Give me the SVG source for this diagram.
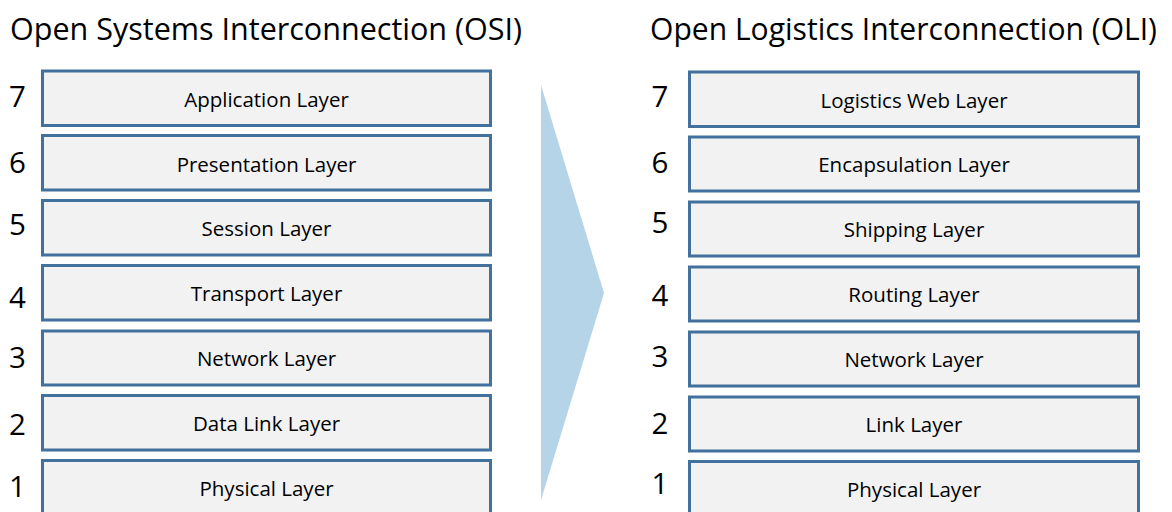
<svg xmlns="http://www.w3.org/2000/svg" width="1172" height="512" viewBox="0 0 1172 512">
<style>
.box{fill:#f2f2f2;stroke:#41719c;stroke-width:3}
.lbl{font-family:"Open Sans","Liberation Sans",sans-serif;font-size:20.5px;fill:#000;text-anchor:middle}
.num{font-family:"Open Sans","Liberation Sans",sans-serif;font-size:29.5px;fill:#000;text-anchor:middle}
.title{font-family:"Open Sans","Liberation Sans",sans-serif;font-size:30.5px;fill:#000}
</style>
<rect width="1172" height="512" fill="#fff"/>
<text class="title" x="10" y="40" textLength="512" lengthAdjust="spacingAndGlyphs">Open Systems Interconnection (OSI)</text>
<text class="title" x="650" y="40" textLength="507" lengthAdjust="spacingAndGlyphs">Open Logistics Interconnection (OLI)</text>
<g id="connectors">
<polygon points="541,85 604,293 541,500" fill="#b5d4e8"/>
</g>
<g id="osi">
<g id="osi7"><rect class="box" x="42.5" y="71" width="448" height="54.5"/><text class="num" x="17.5" y="107">7</text><text class="lbl" x="266.5" y="107">Application Layer</text></g>
<g id="osi6"><rect class="box" x="42.5" y="135.5" width="448" height="54.5"/><text class="num" x="17.5" y="173">6</text><text class="lbl" x="266.5" y="171.5">Presentation Layer</text></g>
<g id="osi5"><rect class="box" x="42.5" y="200.5" width="448" height="54.5"/><text class="num" x="17.5" y="235">5</text><text class="lbl" x="266.5" y="236">Session Layer</text></g>
<g id="osi4"><rect class="box" x="42.5" y="265.5" width="448" height="54.5"/><text class="num" x="17.5" y="308">4</text><text class="lbl" x="266.5" y="301">Transport Layer</text></g>
<g id="osi3"><rect class="box" x="42.5" y="331" width="448" height="54"/><text class="num" x="17.5" y="368">3</text><text class="lbl" x="266.5" y="366">Network Layer</text></g>
<g id="osi2"><rect class="box" x="42.5" y="395.5" width="448" height="54.5"/><text class="num" x="17.5" y="435">2</text><text class="lbl" x="266.5" y="431">Data Link Layer</text></g>
<g id="osi1"><rect class="box" x="42.5" y="460.5" width="448" height="60"/><text class="num" x="17.5" y="497">1</text><text class="lbl" x="266.5" y="495.5">Physical Layer</text></g>
</g>
<g id="oli">
<g id="oli7"><rect class="box" x="689.5" y="72" width="449" height="54.5"/><text class="num" x="660" y="106.5">7</text><text class="lbl" x="914" y="107.5">Logistics Web Layer</text></g>
<g id="oli6"><rect class="box" x="689.5" y="137" width="449" height="54"/><text class="num" x="660" y="173">6</text><text class="lbl" x="914" y="172">Encapsulation Layer</text></g>
<g id="oli5"><rect class="box" x="689.5" y="202" width="449" height="54"/><text class="num" x="660" y="233">5</text><text class="lbl" x="914" y="237">Shipping Layer</text></g>
<g id="oli4"><rect class="box" x="689.5" y="267" width="449" height="54"/><text class="num" x="660" y="306">4</text><text class="lbl" x="914" y="302">Routing Layer</text></g>
<g id="oli3"><rect class="box" x="689.5" y="332" width="449" height="54"/><text class="num" x="660" y="367">3</text><text class="lbl" x="914" y="367">Network Layer</text></g>
<g id="oli2"><rect class="box" x="689.5" y="397" width="449" height="54"/><text class="num" x="660" y="434">2</text><text class="lbl" x="914" y="432">Link Layer</text></g>
<g id="oli1"><rect class="box" x="689.5" y="461.5" width="449" height="60"/><text class="num" x="660" y="494">1</text><text class="lbl" x="914" y="496.5">Physical Layer</text></g>
</g>
</svg>
